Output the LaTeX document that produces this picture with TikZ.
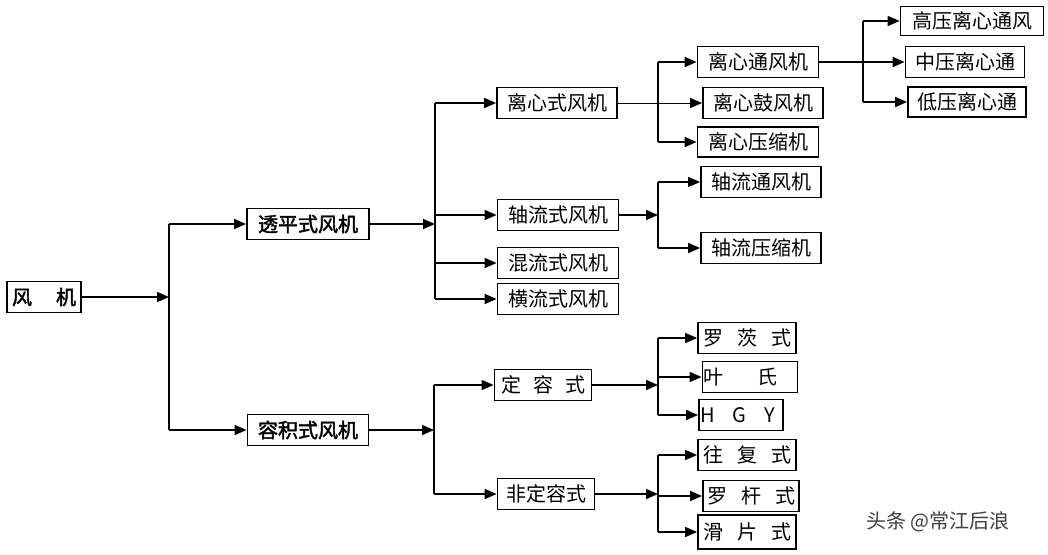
\documentclass[tikz,border=0pt]{standalone}
\usepackage{fontspec}
\newfontfamily\cjk{Noto Sans CJK SC}
\newfontfamily\cjkb[FakeBold=2]{Noto Sans CJK SC}
\usetikzlibrary{arrows.meta}

\tikzset{
  box/.style={draw, line width=1.8pt, minimum height=31pt, inner sep=1pt,
    font=\cjk\fontsize{20}{20}\selectfont},
  bbox/.style={box, font=\cjkb\fontsize{20}{20}\selectfont},
  lbox/.style={box, align=left, text width=#1},
  arr/.style={-{Triangle[length=12pt,width=10pt]}},
}

\begin{document}
\begin{tikzpicture}[x=1pt,y=-1pt,line width=1.6pt]
  \useasboundingbox[fill=white] (0,0) rectangle (1048,554);
  % first and second level
  \node[bbox, minimum width=74pt] (fj) at (44,297) {风\hspace{24pt}机};
  \node[bbox, minimum width=122pt] (tp) at (308,224) {透平式风机};
  \node[bbox, minimum width=121pt] (rj) at (308,430) {容积式风机};
  % turbo machines
  \node[box, minimum width=120pt] (lx) at (557,103) {离心式风机};
  \node[box, minimum width=121pt] (zl) at (558,215) {轴流式风机};
  \node[box, minimum width=121pt] (hl) at (558,263) {混流式风机};
  \node[box, minimum width=121pt] (hg) at (558,299) {横流式风机};
  \node[box, minimum width=121pt] (lxt) at (758,62) {离心通风机};
  \node[box, minimum width=120pt] (lxg) at (763,103) {离心鼓风机};
  \node[box, minimum width=121pt, minimum height=30pt] (lxy) at (758,142) {离心压缩机};
  \node[box, minimum width=120pt] (zlt) at (761,182) {轴流通风机};
  \node[box, minimum width=120pt] (zly) at (761,248) {轴流压缩机};
  \node[box, minimum width=143pt, minimum height=29pt] (gy) at (972,21) {高压离心通风};
  \node[box, minimum width=119pt] (zy) at (965,62) {中压离心通};
  \node[box, minimum width=118pt, minimum height=30pt] (dy) at (967,102) {低压离心通};
  % displacement machines
  \node[box, minimum width=97pt] (dr) at (543,385) {定\hspace{12pt}容\hspace{12pt}式};
  \node[box, minimum width=97pt] (fdr) at (546,494) {非定容式};
  \node[box, minimum width=98pt] (lc) at (747,338) {罗\hspace{14pt}茨\hspace{14pt}式};
  \node[lbox=93pt] (ys) at (750,377) {叶\hspace{34pt}氏};
  \node[lbox=82pt] (hgy) at (741,415) {H\hspace{18pt}G\hspace{18pt}Y};
  \node[box, minimum width=98pt] (wf) at (747,455) {往\hspace{14pt}复\hspace{14pt}式};
  \node[box, minimum width=96pt] (lg) at (751,496) {罗\hspace{14pt}杆\hspace{14pt}式};
  \node[box, minimum width=98pt, minimum height=34pt] (hp) at (747,532) {滑\hspace{14pt}片\hspace{14pt}式};

  % branch lines (only x matters)
  \coordinate (b1) at (169,0);
  \coordinate (b2) at (435,0);
  \coordinate (b3) at (658,0);
  \coordinate (b5) at (863,0);
  \coordinate (b6) at (434,0);

  \draw[arr] (fj.east) -- (fj.east -| b1);
  \draw (b1 |- tp.west) -- (b1 |- rj.west);
  \draw[arr] (b1 |- tp.west) -- (tp.west);
  \draw[arr] (b1 |- rj.west) -- (rj.west);

  \draw[arr] (tp.east) -- (tp.east -| b2);
  \draw (b2 |- lx.west) -- (b2 |- hg.west);
  \foreach \n in {lx,zl,hl,hg}
    \draw[arr] (b2 |- \n.west) -- (\n.west);

  \draw[arr, line width=0.8pt] (lx.east) -- (lxg.west);
  \draw (b3 |- lxt.west) -- (b3 |- lxy.west);
  \draw[arr] (b3 |- lxt.west) -- (lxt.west);
  \draw[arr] (b3 |- lxy.west) -- (lxy.west);

  \draw[arr] (zl.east) -- (zl.east -| b3);
  \draw (b3 |- zlt.west) -- (b3 |- zly.west);
  \draw[arr] (b3 |- zlt.west) -- (zlt.west);
  \draw[arr] (b3 |- zly.west) -- (zly.west);

  \draw[arr] (lxt.east) -- (zy.west);
  \draw (b5 |- gy.west) -- (b5 |- dy.west);
  \draw[arr] (b5 |- gy.west) -- (gy.west);
  \draw[arr] (b5 |- dy.west) -- (dy.west);

  \draw[arr] (rj.east) -- (rj.east -| b6);
  \draw (b6 |- dr.west) -- (b6 |- fdr.west);
  \draw[arr] (b6 |- dr.west) -- (dr.west);
  \draw[arr] (b6 |- fdr.west) -- (fdr.west);

  \draw[arr] (dr.east) -- (dr.east -| b3);
  \draw (b3 |- lc.west) -- (b3 |- hgy.west);
  \foreach \n in {lc,ys,hgy}
    \draw[arr] (b3 |- \n.west) -- (\n.west);

  \draw[arr] (fdr.east) -- (fdr.east -| b3);
  \draw (b3 |- wf.west) -- (b3 |- hp.west);
  \foreach \n in {wf,lg,hp}
    \draw[arr] (b3 |- \n.west) -- (\n.west);

  % watermark
  \node[text=black!75, font=\cjk\fontsize{20}{20}\selectfont] (wm) at (938,522) {头条 @常江后浪};
\end{tikzpicture}
\end{document}
